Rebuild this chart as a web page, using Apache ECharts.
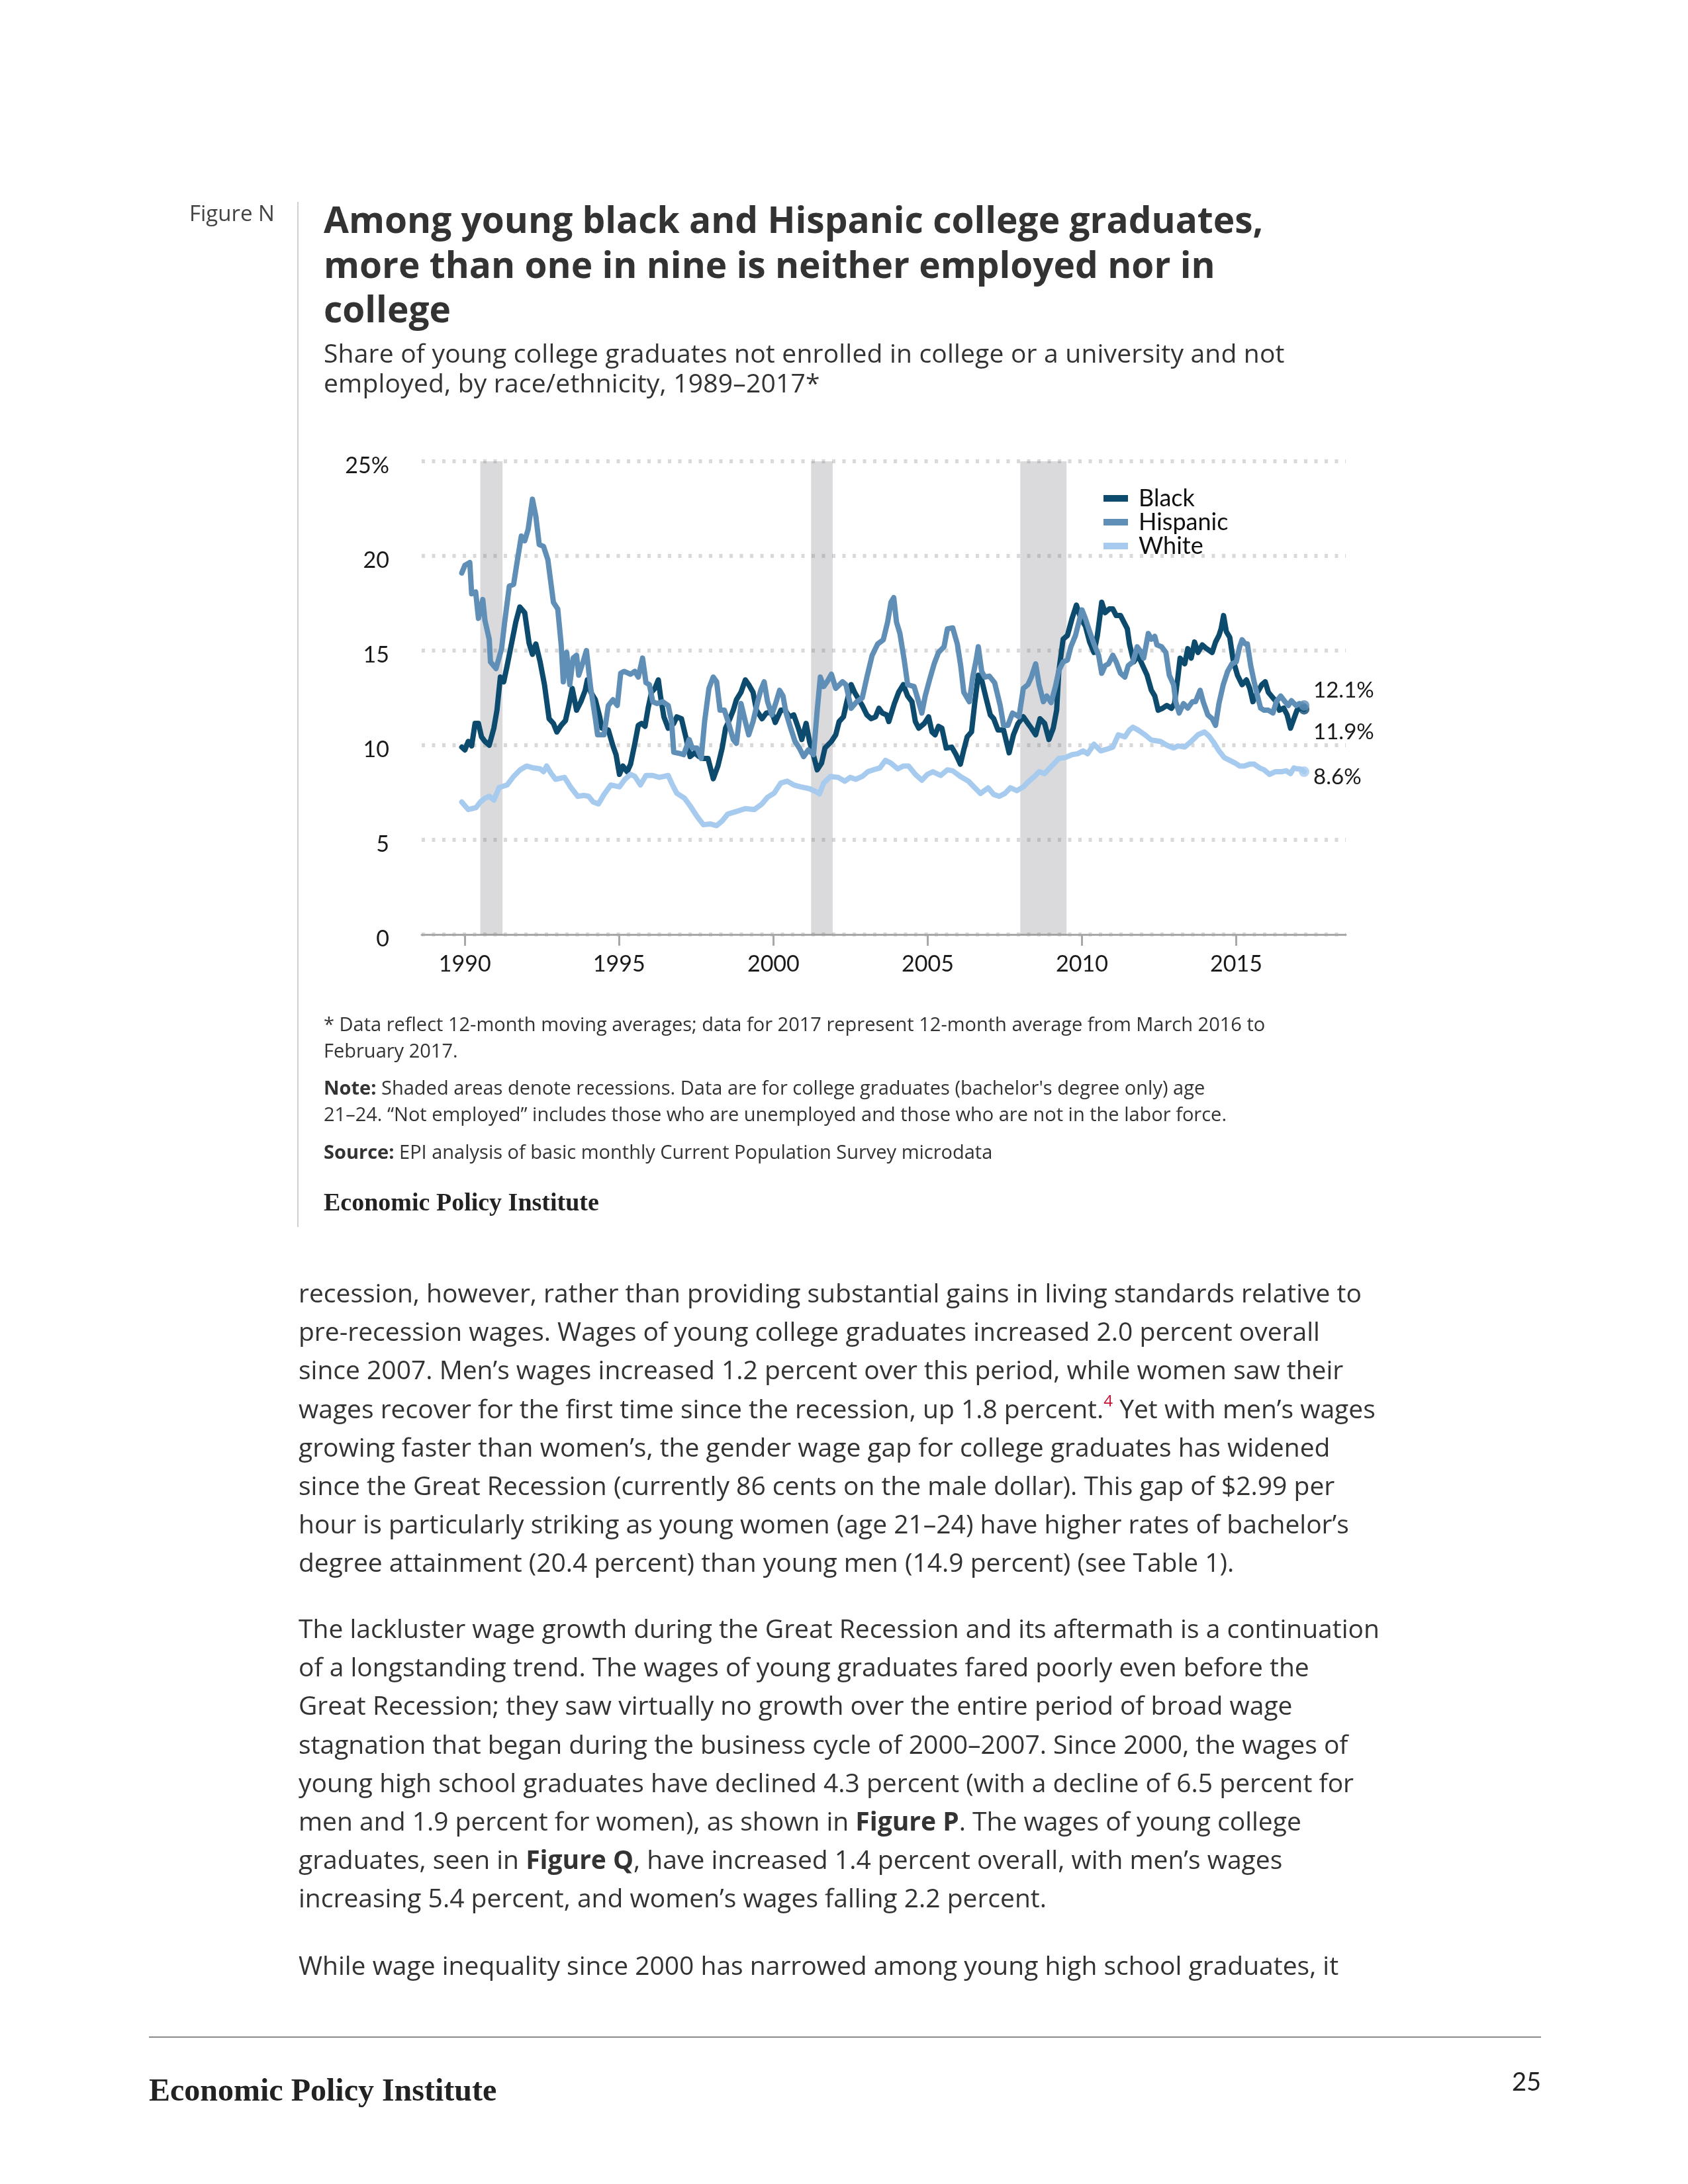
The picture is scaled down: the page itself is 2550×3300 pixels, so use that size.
<!DOCTYPE html>
<html>
<head>
<meta charset="utf-8">
<script src="https://cdn.jsdelivr.net/npm/echarts@6/dist/echarts.min.js"></script>
<style>
  html, body { margin:0; padding:0; background:#fff; }
  body { width:2550px; height:3300px; position:relative; font-family:'Open Sans', sans-serif; color:#333; }
  .abs { position:absolute; white-space:nowrap; }
  #chart { position:absolute; left:0; top:0; width:2550px; height:3300px; }
  .title { left:489px; top:297px; font-size:55px; line-height:67.5px; font-weight:700; color:#333; }
  .sub { left:489px; top:510px; font-size:39px; line-height:45px; color:#333; letter-spacing:0.2px; }
  .fig { left:286px; top:304px; font-size:33px; line-height:36px; color:#444; }
  .note { left:489px; font-size:29px; line-height:40px; color:#333; }
  .epi { font-family:'Liberation Serif', serif; font-weight:700; color:#222; }
  .body { left:451px; font-size:39px; line-height:58.2px; color:#333; }
  sup { color:#c8102e; font-size:0.62em; line-height:0; vertical-align:0.75em; }
</style>
</head>
<body>
<div id="chart"></div>

<div class="abs fig">Figure N</div>
<div class="abs" style="left:449px; top:305px; width:2px; height:1549px; background:#d0d0d0;"></div>
<div class="abs title">Among young black and Hispanic college graduates,<br>more than one in nine is neither employed nor in<br>college</div>
<div class="abs sub">Share of young college graduates not enrolled in college or a university and not<br>employed, by race/ethnicity, 1989–2017*</div>

<div class="abs note" style="top:1527px;">* Data reflect 12-month moving averages; data for 2017 represent 12-month average from March 2016 to<br>February 2017.</div>
<div class="abs note" style="top:1623px;"><b>Note:</b> Shaded areas denote recessions. Data are for college graduates (bachelor's degree only) age<br>21–24. “Not employed” includes those who are unemployed and those who are not in the labor force.</div>
<div class="abs note" style="top:1720px;"><b>Source:</b> EPI analysis of basic monthly Current Population Survey microdata</div>
<div class="abs epi" style="left:489px; top:1795px; font-size:38px; line-height:42px;">Economic Policy Institute</div>

<div class="abs body" style="top:1924px;">recession, however, rather than providing substantial gains in living standards relative to<br>pre-recession wages. Wages of young college graduates increased 2.0 percent overall<br>since 2007. Men’s wages increased 1.2 percent over this period, while women saw their<br>wages recover for the first time since the recession, up 1.8 percent.<sup>4</sup> Yet with men’s wages<br>growing faster than women’s, the gender wage gap for college graduates has widened<br>since the Great Recession (currently 86 cents on the male dollar). This gap of $2.99 per<br>hour is particularly striking as young women (age 21–24) have higher rates of bachelor’s<br>degree attainment (20.4 percent) than young men (14.9 percent) (see Table 1).</div>
<div class="abs body" style="top:2431px;">The lackluster wage growth during the Great Recession and its aftermath is a continuation<br>of a longstanding trend. The wages of young graduates fared poorly even before the<br>Great Recession; they saw virtually no growth over the entire period of broad wage<br>stagnation that began during the business cycle of 2000–2007. Since 2000, the wages of<br>young high school graduates have declined 4.3 percent (with a decline of 6.5 percent for<br>men and 1.9 percent for women), as shown in <b>Figure P</b>. The wages of young college<br>graduates, seen in <b>Figure Q</b>, have increased 1.4 percent overall, with men’s wages<br>increasing 5.4 percent, and women’s wages falling 2.2 percent.</div>
<div class="abs body" style="top:2940px;">While wage inequality since 2000 has narrowed among young high school graduates, it</div>

<div class="abs" style="left:225px; top:3077px; width:2103px; height:2px; background:#8a8a8a;"></div>
<div class="abs epi" style="left:225px; top:3131px; font-size:48px; line-height:54px;">Economic Policy Institute</div>
<div class="abs" style="left:2250px; top:3122px; width:78px; text-align:right; font-family:'Lato',sans-serif; font-size:38px; line-height:44px; color:#222;">25</div>

<script>
// ---- Data ----
const tickYears = [1990, 1995, 2000, 2005, 2010, 2015];
const yTicks = [0, 5, 10, 15, 20, 25];
const recessions = [[1990.5, 1991.22], [2001.22, 2001.92], [2008.0, 2009.5]];
const seriesNames = ['Black', 'Hispanic', 'White'];

const blackX = [1989.9,1990.0,1990.11,1990.22,1990.33,1990.44,1990.54,1990.65,1990.79,1990.94,1991.04,1991.15,1991.26,1991.37,1991.51,1991.65,1991.78,1991.94,1992.08,1992.19,1992.30,1992.44,1992.58,1992.73,1992.87,1992.98,1993.12,1993.26,1993.37,1993.48,1993.62,1993.76,1993.90,1993.97,1994.08,1994.23,1994.37,1994.44,1994.65,1994.80,1994.90,1995.01,1995.12,1995.26,1995.37,1995.51,1995.62,1995.73,1995.84,1995.94,1996.05,1996.16,1996.27,1996.34,1996.45,1996.59,1996.77,1996.87,1997.02,1997.16,1997.30,1997.45,1997.59,1997.73,1997.88,1998.05,1998.20,1998.34,1998.45,1998.59,1998.70,1998.80,1998.95,1999.09,1999.20,1999.34,1999.45,1999.63,1999.77,1999.95,2000.06,2000.24,2000.38,2000.52,2000.66,2000.81,2000.92,2001.06,2001.17,2001.31,2001.42,2001.56,2001.67,2001.88,2002.02,2002.13,2002.27,2002.38,2002.52,2002.63,2002.77,2002.88,2003.03,2003.17,2003.31,2003.42,2003.53,2003.67,2003.74,2003.92,2004.06,2004.21,2004.35,2004.49,2004.60,2004.71,2004.89,2005.03,2005.14,2005.24,2005.35,2005.46,2005.60,2005.78,2005.92,2006.06,2006.17,2006.28,2006.42,2006.53,2006.64,2006.75,2006.89,2007.03,2007.14,2007.28,2007.46,2007.64,2007.78,2007.93,2008.10,2008.25,2008.36,2008.50,2008.64,2008.79,2008.93,2009.07,2009.18,2009.25,2009.39,2009.53,2009.68,2009.82,2009.96,2010.11,2010.25,2010.39,2010.50,2010.64,2010.75,2010.89,2011.0,2011.11,2011.25,2011.36,2011.47,2011.54,2011.68,2011.82,2011.97,2012.11,2012.25,2012.36,2012.47,2012.61,2012.75,2012.90,2013.0,2013.11,2013.18,2013.33,2013.43,2013.54,2013.65,2013.76,2013.90,2014.04,2014.22,2014.33,2014.44,2014.51,2014.59,2014.68,2014.79,2014.90,2015.04,2015.19,2015.33,2015.44,2015.54,2015.69,2015.83,2015.94,2016.04,2016.19,2016.30,2016.40,2016.54,2016.65,2016.76,2016.87,2016.97,2017.07,2017.2];
const blackY = [9.9,9.75,10.2,9.96,11.15,11.15,10.44,10.2,10.0,10.9,11.85,13.6,13.35,14.2,15.35,16.5,17.3,17.0,15.4,14.8,15.35,14.4,13.2,11.4,11.15,10.7,11.05,11.3,12.1,13.0,11.85,12.3,12.9,13.45,12.8,12.4,11.5,10.9,10.8,9.96,9.5,8.46,8.9,8.6,9.0,10.1,11.05,11.15,11.0,11.96,12.8,13.0,13.45,12.6,11.5,10.9,11.15,11.5,11.4,10.44,9.4,9.6,9.4,9.3,9.3,8.23,8.9,9.85,10.9,11.4,11.85,12.4,12.8,13.45,13.2,12.8,11.85,11.4,11.7,11.75,11.2,11.85,11.85,11.5,11.6,10.9,10.3,11.15,10.2,9.4,8.7,9.05,9.85,10.2,10.55,11.25,11.5,12.3,13.2,12.8,12.4,12.1,11.6,11.4,11.5,11.95,11.7,11.6,11.25,12.2,12.8,13.2,12.6,12.3,11.25,10.9,11.15,11.5,10.7,10.55,11.0,10.9,9.85,9.9,9.5,9.0,9.75,10.44,10.7,12.3,13.7,13.45,12.5,11.6,11.4,10.8,10.8,9.6,10.55,11.15,11.5,11.15,10.9,10.55,11.4,11.15,10.3,10.9,11.85,13.9,15.6,15.8,16.7,17.4,16.7,16.3,15.45,14.9,15.8,17.55,17.0,17.2,17.2,16.85,16.85,16.5,16.15,15.35,14.4,14.75,14.2,13.7,12.9,12.6,11.85,11.95,12.1,11.95,12.2,13.6,14.6,14.3,15.1,14.6,15.45,14.9,15.3,15.1,14.9,15.45,15.8,16.15,16.85,16.0,15.7,14.5,13.7,13.2,13.45,13.0,12.3,12.8,13.2,13.35,12.8,12.5,12.3,11.85,11.96,11.6,10.9,11.4,11.85,11.96,11.9];

const hispanicX = [1989.9,1990.0,1990.16,1990.22,1990.35,1990.44,1990.58,1990.65,1990.79,1990.83,1991.01,1991.19,1991.29,1991.44,1991.58,1991.69,1991.83,1991.94,1992.05,1992.19,1992.30,1992.41,1992.55,1992.69,1992.87,1993.01,1993.12,1993.19,1993.30,1993.40,1993.51,1993.62,1993.69,1993.83,1993.94,1994.08,1994.23,1994.30,1994.51,1994.65,1994.80,1994.94,1995.05,1995.16,1995.37,1995.51,1995.62,1995.76,1995.87,1995.98,1996.09,1996.23,1996.41,1996.59,1996.70,1996.77,1996.95,1997.09,1997.27,1997.37,1997.52,1997.66,1997.77,1997.91,1998.05,1998.16,1998.27,1998.41,1998.55,1998.70,1998.80,1998.88,1998.95,1999.09,1999.20,1999.34,1999.49,1999.59,1999.70,1999.81,1999.95,2000.09,2000.20,2000.31,2000.41,2000.56,2000.70,2000.84,2000.98,2001.13,2001.30,2001.42,2001.52,2001.63,2001.74,2001.88,2002.02,2002.24,2002.35,2002.52,2002.70,2002.88,2003.03,2003.20,2003.38,2003.56,2003.70,2003.81,2003.90,2003.99,2004.10,2004.24,2004.35,2004.56,2004.67,2004.81,2004.92,2005.06,2005.21,2005.35,2005.53,2005.64,2005.81,2005.96,2006.07,2006.17,2006.35,2006.46,2006.57,2006.64,2006.75,2006.85,2007.0,2007.17,2007.35,2007.46,2007.60,2007.75,2007.96,2008.10,2008.25,2008.36,2008.50,2008.61,2008.75,2008.86,2009.0,2009.14,2009.25,2009.39,2009.53,2009.64,2009.79,2009.93,2010.0,2010.11,2010.25,2010.39,2010.54,2010.64,2010.75,2010.86,2011.0,2011.11,2011.25,2011.39,2011.50,2011.65,2011.79,2011.90,2012.0,2012.15,2012.25,2012.36,2012.43,2012.58,2012.72,2012.83,2012.97,2013.04,2013.15,2013.29,2013.43,2013.58,2013.68,2013.83,2013.93,2014.08,2014.22,2014.33,2014.44,2014.58,2014.72,2014.86,2015.0,2015.11,2015.19,2015.29,2015.36,2015.47,2015.58,2015.69,2015.79,2015.90,2016.04,2016.19,2016.30,2016.44,2016.58,2016.69,2016.79,2016.94,2017.05,2017.2];
const hispanicY = [19.1,19.5,19.65,18.0,18.1,16.7,17.7,16.6,15.6,14.4,14.05,15.1,16.5,18.4,18.5,19.65,21.05,20.8,21.4,23.0,22.1,20.6,20.5,19.8,17.55,17.2,15.35,13.35,14.9,13.2,14.6,14.75,13.7,14.4,15.0,13.0,11.4,10.55,10.55,12.1,12.4,12.1,13.8,13.9,13.75,13.9,13.6,14.6,13.3,13.2,12.3,12.2,12.3,12.1,11.25,9.63,9.57,9.5,10.3,9.85,9.85,9.3,11.25,13.0,13.6,13.35,11.85,11.85,11.15,10.3,10.1,11.15,12.2,11.25,10.55,11.25,12.3,12.9,13.35,12.3,11.6,12.3,12.9,12.6,11.7,10.9,10.2,9.85,9.4,9.75,9.5,11.85,13.6,13.1,13.35,13.75,13.0,13.35,13.2,11.95,12.3,12.5,13.6,14.75,15.35,15.57,16.5,17.55,17.8,16.5,15.9,14.5,13.2,13.1,12.5,11.7,12.6,13.45,14.3,14.9,15.2,16.15,16.2,15.35,14.2,12.8,12.3,13.6,14.5,15.2,13.9,13.6,13.65,13.3,12.1,11.05,11.05,11.7,11.5,13.0,13.2,13.6,14.3,13.2,12.3,12.6,12.25,13.1,13.94,14.4,14.5,15.2,15.8,16.7,17.15,16.7,16.0,15.35,14.75,13.8,14.2,14.3,14.75,14.4,13.8,13.6,14.2,14.4,15.2,14.95,14.6,15.9,15.6,15.75,15.3,15.2,14.9,13.7,13.2,12.3,11.7,12.2,11.96,12.3,12.3,12.9,12.3,11.6,11.4,11.05,12.2,13.2,13.9,14.3,14.4,15.2,15.57,15.35,15.35,14.2,13.35,12.6,11.96,11.85,11.85,11.7,12.3,12.6,12.3,12.1,12.35,12.1,12.2,12.1];

const whiteX = [1989.9,1990.11,1990.36,1990.50,1990.65,1990.79,1990.94,1991.11,1991.37,1991.58,1991.79,1992.0,1992.22,1992.44,1992.55,1992.65,1992.80,1992.94,1993.23,1993.44,1993.66,1993.87,1994.01,1994.16,1994.33,1994.51,1994.73,1995.01,1995.19,1995.37,1995.51,1995.69,1995.87,1996.09,1996.30,1996.59,1996.73,1996.87,1997.12,1997.30,1997.52,1997.73,1997.95,1998.16,1998.34,1998.52,1998.80,1999.09,1999.38,1999.63,1999.81,2000.02,2000.24,2000.45,2000.66,2000.88,2001.17,2001.38,2001.49,2001.63,2001.85,2002.1,2002.31,2002.49,2002.67,2002.88,2003.06,2003.24,2003.45,2003.63,2003.81,2004.03,2004.21,2004.38,2004.6,2004.81,2004.99,2005.17,2005.42,2005.64,2005.81,2006.06,2006.32,2006.53,2006.71,2006.96,2007.14,2007.32,2007.50,2007.68,2007.89,2008.10,2008.28,2008.46,2008.61,2008.79,2008.96,2009.11,2009.25,2009.46,2009.68,2009.86,2010.04,2010.18,2010.39,2010.61,2010.82,2011.0,2011.18,2011.39,2011.54,2011.65,2011.82,2012.04,2012.25,2012.54,2012.75,2012.97,2013.11,2013.33,2013.54,2013.76,2013.97,2014.11,2014.29,2014.44,2014.61,2014.79,2014.97,2015.11,2015.26,2015.44,2015.58,2015.76,2015.90,2016.08,2016.26,2016.47,2016.62,2016.76,2016.87,2016.97,2017.07,2017.2];
const whiteY = [7.0,6.6,6.7,7.0,7.2,7.3,7.1,7.76,7.9,8.35,8.7,8.9,8.8,8.75,8.6,8.9,8.5,8.2,8.3,7.76,7.3,7.35,7.3,7.0,6.9,7.4,7.9,7.8,8.2,8.46,8.35,7.9,8.4,8.4,8.3,8.4,7.9,7.46,7.2,6.8,6.25,5.8,5.84,5.75,6.0,6.36,6.5,6.65,6.6,6.9,7.25,7.46,8.0,8.1,7.9,7.8,7.7,7.55,7.43,8.0,8.35,8.3,8.1,8.3,8.2,8.35,8.6,8.7,8.8,9.2,9.05,8.75,8.9,8.9,8.46,8.15,8.46,8.6,8.4,8.7,8.65,8.35,8.1,7.75,7.45,7.75,7.4,7.3,7.45,7.75,7.6,7.8,8.1,8.35,8.6,8.5,8.8,9.05,9.3,9.35,9.5,9.55,9.7,9.55,10.05,9.7,9.8,9.9,10.55,10.44,10.8,10.95,10.8,10.55,10.27,10.2,10.0,9.85,9.96,9.9,10.2,10.55,10.7,10.5,10.1,9.7,9.35,9.2,9.05,8.9,8.9,9.0,9.0,8.8,8.7,8.46,8.6,8.6,8.65,8.5,8.8,8.75,8.75,8.6];

const colors = { Black:'#0c4a6e', Hispanic:'#5f8eb6', White:'#a7cbee' };
const endLabelOffsets = { Black:[0, 35], Hispanic:[0, -23], White:[0, 8] };

// ---- Build chart ----
const zip = (xs, ys) => xs.map((x, i) => [x, ys[i]]);
const seriesData = { Black: zip(blackX, blackY), Hispanic: zip(hispanicX, hispanicY), White: zip(whiteX, whiteY) };

const chart = echarts.init(document.getElementById('chart'), null, { renderer: 'canvas' });
const FONT = 'Lato, sans-serif';

const series = [{
  name: 'recessions', type: 'line', data: [], silent: true, z: 1,
  markArea: {
    silent: true,
    itemStyle: { color: 'rgba(120,120,128,0.27)' },
    data: recessions.map(r => [{ xAxis: r[0], yAxis: 0 }, { xAxis: r[1], yAxis: 25 }])
  }
}];
seriesNames.forEach(name => {
  const d = seriesData[name];
  series.push({
    name, type: 'line', data: d, showSymbol: false, z: 3,
    lineStyle: { width: 8, color: colors[name], join: 'round', cap: 'round' },
    itemStyle: { color: colors[name] },
    endLabel: {
      show: true, distance: 14, offset: endLabelOffsets[name],
      formatter: p => p.value[1].toFixed(1) + '%',
      fontSize: 33, color: '#1a1a1a', fontFamily: FONT
    }
  });
  series.push({
    name: name + ' end', type: 'scatter', z: 4, silent: true,
    data: [d[d.length - 1]], symbol: 'circle', symbolSize: 16,
    itemStyle: { color: colors[name] }
  });
});

chart.setOption({
  animation: false,
  textStyle: { fontFamily: FONT },
  grid: { left: 637, top: 697, width: 1396, height: 715, containLabel: false },
  legend: {
    data: seriesNames, orient: 'vertical', left: 1662, top: 730,
    icon: 'rect', itemWidth: 37, itemHeight: 10, itemGap: 0,
    selectedMode: false,
    textStyle: { fontSize: 36, color: '#111', lineHeight: 34.5, padding: [0, 0, 0, 11], fontFamily: FONT }
  },
  xAxis: {
    type: 'value', min: 1988.6, max: 2018.55,
    splitLine: { show: false },
    axisLine: { show: true, onZero: false, lineStyle: { color: '#a8a8a8', width: 3 } },
    axisTick: { show: true, customValues: tickYears, length: 17, lineStyle: { color: '#a8a8a8', width: 3 } },
    axisLabel: { customValues: tickYears, formatter: v => String(v), fontSize: 34, color: '#1a1a1a', margin: 28, fontFamily: FONT }
  },
  yAxis: {
    type: 'value', min: 0, max: 25, interval: 5,
    axisLine: { show: false }, axisTick: { show: false },
    splitLine: { show: true, lineStyle: { color: '#d9d9d9', width: 6, type: [5, 10.5] } },
    axisLabel: {
      customValues: yTicks, margin: 49, verticalAlign: 'middle',
      formatter: v => '{v|' + (v === 25 ? '25%' : String(v)) + '}',
      rich: { v: { fontSize: 34, color: '#1a1a1a', fontFamily: FONT, padding: [14, 0, 0, 0] } }
    }
  },
  series
});
</script>
</body>
</html>
